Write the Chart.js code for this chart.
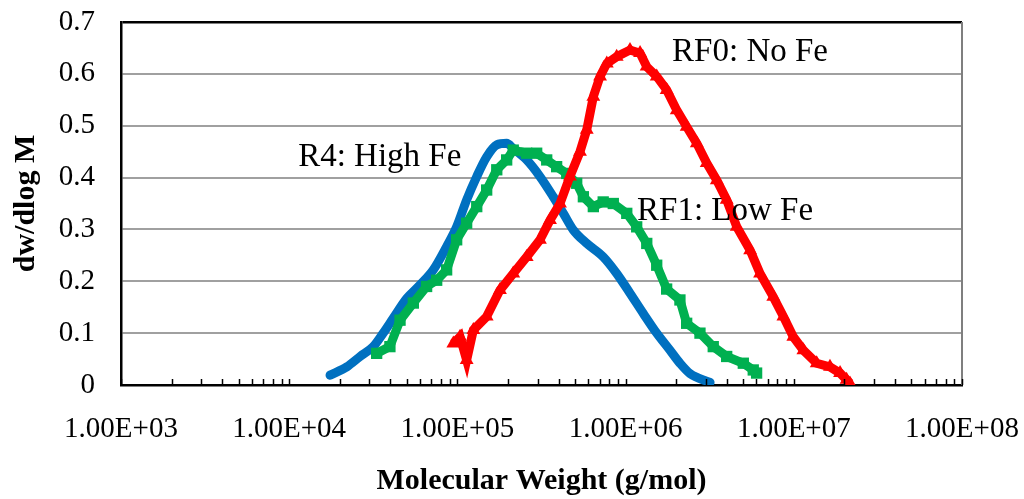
<!DOCTYPE html>
<html>
<head>
<meta charset="utf-8">
<title>Molecular weight distribution</title>
<script src="https://cdn.jsdelivr.net/npm/chart.js@4/dist/chart.umd.min.js"></script>
<style>
  html, body { margin: 0; padding: 0; background: #fff; }
  #wrap { width: 1024px; height: 499px; }
</style>
</head>
<body>
<div id="wrap"><canvas id="mwdChart" width="1024" height="499"></canvas></div>
<script>
"use strict";

// ---- data: molecular weight (g/mol) vs dw/dlog M ----
const r4Mw  = [1.75e4, 2.2e4, 2.64e4, 3.16e4, 3.62e4, 4.16e4, 5.0e4, 6.0e4, 7.19e4, 8.63e4,
               9.9e4, 1.135e5, 1.303e5, 1.493e5, 1.714e5, 1.963e5, 2.148e5, 2.582e5, 3.097e5, 3.715e5,
               4.266e5, 4.887e5, 5.875e5, 7.362e5, 8.851e5, 1.062e6, 1.274e6, 1.531e6, 1.837e6, 2.104e6,
               2.415e6, 3.177e6];
const r4Val = [0.019, 0.035, 0.055, 0.074, 0.100, 0.129, 0.167, 0.193, 0.222, 0.267,
               0.305, 0.357, 0.402, 0.440, 0.463, 0.466, 0.456, 0.434, 0.402, 0.363,
               0.331, 0.299, 0.273, 0.247, 0.215, 0.177, 0.138, 0.100, 0.067, 0.042,
               0.022, 0.005];

const rf1Mw  = [3.31e4, 3.97e4, 4.56e4, 5.47e4, 6.56e4, 7.53e4, 8.63e4, 9.9e4, 1.135e5, 1.303e5,
                1.493e5, 1.714e5, 1.963e5, 2.148e5, 2.582e5, 2.96e5, 3.396e5, 3.89e5, 4.467e5, 5.12e5,
                5.61e5, 6.43e5, 7.36e5, 8.45e5, 1.016e6, 1.164e6, 1.336e6, 1.531e6, 1.754e6, 2.104e6,
                2.307e6, 2.768e6, 3.32e6, 3.99e6, 5.01e6, 5.74e6, 6.01e6];
const rf1Val = [0.061, 0.074, 0.125, 0.158, 0.190, 0.202, 0.222, 0.280, 0.312, 0.344,
                0.376, 0.415, 0.434, 0.453, 0.447, 0.447, 0.434, 0.421, 0.408, 0.389,
                0.363, 0.344, 0.353, 0.350, 0.331, 0.305, 0.273, 0.231, 0.185, 0.164,
                0.119, 0.100, 0.074, 0.055, 0.042, 0.029, 0.023];

const rf0Mw  = [9.46e4, 1.037e5, 1.135e5, 1.244e5, 1.493e5, 1.791e5, 2.148e5, 2.582e5, 3.097e5, 3.554e5,
                4.074e5, 4.667e5, 5.357e5, 5.875e5, 6.43e5, 7.05e5, 7.73e5, 8.85e5, 1.062e6, 1.219e6,
                1.334e6, 1.531e6, 1.754e6, 2.014e6, 2.307e6, 2.649e6, 3.035e6, 3.483e6, 3.99e6, 4.58e6,
                5.50e6, 6.30e6, 7.55e6, 8.67e6, 9.93e6, 1.14e7, 1.368e7, 1.641e7, 1.884e7, 2.06e7,
                2.158e7];
const rf0Val = [0.080, 0.093, 0.048, 0.106, 0.132, 0.183, 0.215, 0.247, 0.280, 0.318,
                0.350, 0.402, 0.450, 0.492, 0.556, 0.595, 0.620, 0.633, 0.646, 0.640,
                0.614, 0.595, 0.569, 0.530, 0.498, 0.466, 0.428, 0.395, 0.357, 0.305,
                0.260, 0.215, 0.170, 0.132, 0.093, 0.067, 0.042, 0.035, 0.023, 0.010,
                0.003];

const xTickValues = [1e3, 1e4, 1e5, 1e6, 1e7, 1e8];
const xTickLabels = ['1.00E+03', '1.00E+04', '1.00E+05', '1.00E+06', '1.00E+07', '1.00E+08'];
const yTickValues = [0, 0.1, 0.2, 0.3, 0.4, 0.5, 0.6, 0.7];
const yTickLabels = ['0', '0.1', '0.2', '0.3', '0.4', '0.5', '0.6', '0.7'];

// series names written next to each curve, anchored in data units (left edge, middle)
const seriesNames = ['R4: High Fe', 'RF1: Low Fe', 'RF0: No Fe'];
const nameAnchorMw = [1.13e4, 1.17e6, 1.89e6];
const nameAnchorVal = [0.44, 0.334, 0.642];

const toPoints = (xs, ys) => xs.map((x, i) => ({ x, y: ys[i] }));

// every 1..9 x 10^n position for the small inward tick marks
function logTickPositions() {
  const out = [];
  for (let d = 0; d < xTickValues.length - 1; d++) {
    for (let k = 1; k <= 9; k++) out.push(k * xTickValues[d]);
  }
  out.push(xTickValues[xTickValues.length - 1]);
  return out;
}

const frameAndTicks = {
  id: 'frameAndTicks',
  afterDatasetsDraw(chart) {
    const { ctx, chartArea: a, scales: { x } } = chart;
    ctx.save();
    // right frame edge
    ctx.strokeStyle = '#7f7f7f';
    ctx.lineWidth = 2;
    ctx.beginPath();
    ctx.moveTo(a.right, a.top);
    ctx.lineTo(a.right, a.bottom);
    ctx.stroke();
    // tick marks pointing up from the x axis
    ctx.strokeStyle = '#000';
    ctx.lineWidth = 1.5;
    x.ticks.forEach(t => {
      const px = Math.round(x.getPixelForValue(t.value)) + 0.5;
      ctx.beginPath();
      ctx.moveTo(px, a.bottom);
      ctx.lineTo(px, a.bottom - 6);
      ctx.stroke();
    });
    ctx.restore();
  },
  afterDraw(chart) {
    const { ctx, scales: { x, y } } = chart;
    ctx.save();
    ctx.fillStyle = '#000';
    ctx.font = '33px "Liberation Serif", "Times New Roman", serif';
    ctx.textAlign = 'left';
    ctx.textBaseline = 'middle';
    seriesNames.forEach((name, i) => {
      ctx.fillText(name, x.getPixelForValue(nameAnchorMw[i]), y.getPixelForValue(nameAnchorVal[i]));
    });
    ctx.restore();
  }
};

Chart.defaults.font.family = '"Liberation Serif", "Times New Roman", serif';
Chart.defaults.color = '#000';

new Chart(document.getElementById('mwdChart'), {
  type: 'line',
  data: {
    datasets: [
      {
        label: 'R4: High Fe',
        data: toPoints(r4Mw, r4Val),
        borderColor: '#0070C0',
        backgroundColor: '#0070C0',
        borderWidth: 9,
        pointRadius: 0,
        cubicInterpolationMode: 'monotone',
        borderCapStyle: 'round',
        borderJoinStyle: 'round',
        order: 3
      },
      {
        label: 'RF1: Low Fe',
        data: toPoints(rf1Mw, rf1Val),
        borderColor: '#00B050',
        backgroundColor: '#00B050',
        borderWidth: 9,
        pointStyle: 'rect',
        pointRadius: 8,
        pointBorderWidth: 0,
        order: 2
      },
      {
        label: 'RF0: No Fe',
        data: toPoints(rf0Mw, rf0Val),
        borderColor: '#FF0000',
        backgroundColor: '#FF0000',
        borderWidth: 9,
        pointStyle: 'triangle',
        pointRadius: 8,
        pointBorderWidth: 0,
        order: 1
      }
    ]
  },
  options: {
    responsive: false,
    animation: false,
    devicePixelRatio: 1,
    layout: { padding: { top: 22, right: 62, bottom: 0, left: 0 } },
    plugins: {
      legend: { display: false },
      tooltip: { enabled: false }
    },
    scales: {
      x: {
        type: 'logarithmic',
        min: xTickValues[0],
        max: xTickValues[xTickValues.length - 1],
        afterBuildTicks: scale => { scale.ticks = logTickPositions().map(v => ({ value: v })); },
        afterFit: scale => {
          scale.height = 114;
          scale.paddingLeft = 0;
          scale.paddingRight = 0;
        },
        grid: { display: false, drawTicks: false },
        border: { display: true, color: '#000', width: 2.5 },
        ticks: {
          autoSkip: false,
          maxRotation: 0,
          padding: 27,
          font: { size: 29 },
          callback: value => {
            const i = xTickValues.indexOf(value);
            return i >= 0 ? xTickLabels[i] : '';
          }
        },
        title: {
          display: true,
          text: 'Molecular Weight (g/mol)',
          font: { size: 30, weight: 'bold' },
          padding: { top: 0, bottom: 0 }
        }
      },
      y: {
        min: 0,
        max: 0.7,
        afterBuildTicks: scale => { scale.ticks = yTickValues.map(v => ({ value: v })); },
        afterFit: scale => {
          scale.width = 121;
          scale.paddingTop = 0;
          scale.paddingBottom = 0;
        },
        grid: {
          drawTicks: false,
          color: c => c.tick.value === 0 ? 'rgba(0,0,0,0)' : (c.tick.value >= 0.7 ? '#000' : '#a0a0a0'),
          lineWidth: c => c.tick.value >= 0.7 ? 2.5 : 2
        },
        border: { display: true, color: '#000', width: 2.5 },
        ticks: {
          padding: 26,
          font: { size: 29 },
          callback: (value, i) => yTickLabels[i]
        },
        title: {
          display: true,
          text: 'dw/dlog M',
          font: { size: 30, weight: 'bold' },
          padding: { top: 8, bottom: 0 }
        }
      }
    }
  },
  plugins: [frameAndTicks]
});
</script>
</body>
</html>
